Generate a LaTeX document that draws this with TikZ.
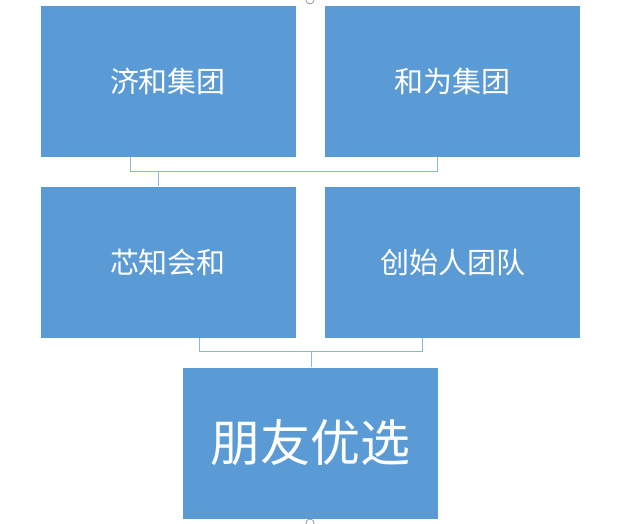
\documentclass[tikz,border=0pt]{standalone}
\usepackage{fontspec}
\newfontfamily\cjk{Noto Sans CJK SC}
\begin{document}
\begin{tikzpicture}[x=1pt,y=-1pt,
  box/.style={draw=white,line width=1pt,fill=boxblue,text=white,minimum width=256pt,minimum height=152pt,inner sep=0pt,font=\cjk\fontsize{29}{34}\selectfont},
  conn/.style={draw=connblue,line width=1pt},
  handle/.style={draw=gray,fill=white,line width=0.6pt}]
\definecolor{boxblue}{HTML}{5B9BD5}
\definecolor{connblue}{HTML}{8DB4E2}
\useasboundingbox (0,0) rectangle (641,523);
\node[box] (a) at (168,81) {济和集团};
\node[box] (b) at (452.5,81) {和为集团};
\node[box] (c) at (168,262) {芯知会和};
\node[box] (d) at (452.5,262) {创始人团队};
\node[box,font=\cjk\fontsize{50}{56}\selectfont] (e) at (310.5,443) {朋友优选};
\coordinate (a1) at (130,157); \coordinate (a2) at (130,171.5);
\coordinate (b1) at (437,157); \coordinate (b2) at (437,171.5);
\coordinate (c0) at (158,171.5); \coordinate (c1) at (158,186);
\draw[conn] (a1) -- (a2) -- (b2) -- (b1);
\draw[conn] (c0) -- (c1);
\coordinate (c2) at (199,338); \coordinate (c3) at (199,351.5);
\coordinate (d2) at (422,338); \coordinate (d3) at (422,351.5);
\coordinate (e0) at (311,351.5); \coordinate (e1) at (311,367);
\draw[conn] (c2) -- (c3) -- (d3) -- (d2);
\draw[conn] (e0) -- (e1);
\draw[handle] (310,0) circle (4);
\draw[handle] (310,523) circle (4);
\end{tikzpicture}
\end{document}
